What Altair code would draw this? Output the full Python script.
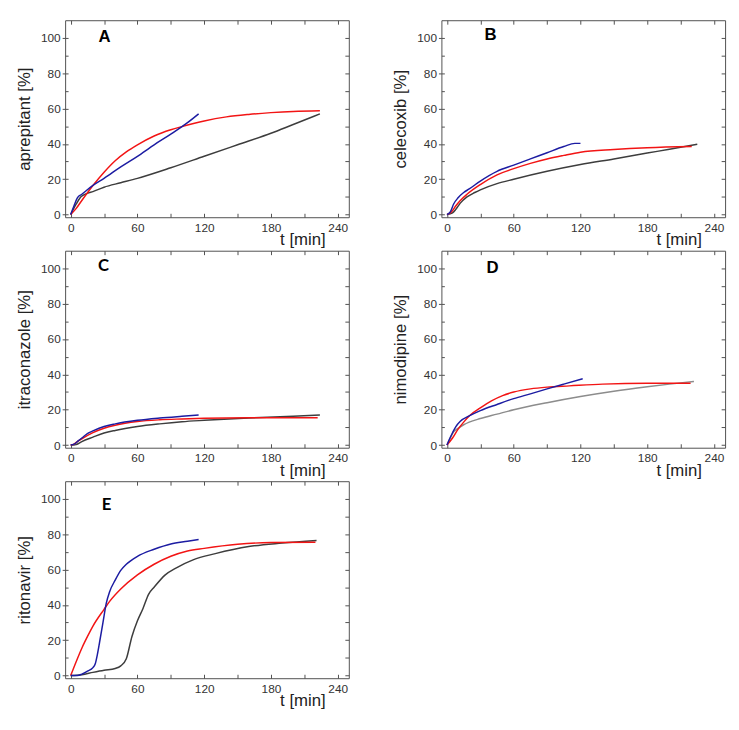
import altair as alt
import pandas as pd

# ---------------- data ----------------
# Panel A - aprepitant
a_blue_t = [0, 3, 6, 10, 20, 30, 45, 60, 75, 90, 105, 115]
a_blue_y = [0, 5, 9.5, 11.5, 16.5, 20.5, 27, 33, 39.5, 45.5, 52, 57]
a_red_t = [0, 5, 10, 20, 30, 40, 50, 60, 75, 90, 100, 120, 140, 160, 180, 200, 224]
a_red_y = [0, 3.5, 8, 16.5, 24, 30.5, 35.5, 39.5, 44.5, 48, 49.8, 53, 55.3, 56.7, 57.7, 58.4, 58.8]
a_gray_t = [0, 5, 9, 15, 20, 30, 45, 60, 90, 120, 150, 180, 200, 224]
a_gray_y = [0, 6, 10, 12, 13, 15.5, 18, 20.5, 26.5, 33, 39.5, 46, 51, 57]

# Panel B - celecoxib
b_blue_t = [0, 3, 6, 10, 15, 20, 30, 45, 60, 75, 90, 105, 115, 120]
b_blue_y = [0, 1.5, 6, 9.5, 12.5, 14.5, 19, 24.5, 28, 31.5, 35, 38.5, 40.3, 40.3]
b_red_t = [0, 4, 8, 12, 18, 30, 45, 60, 75, 90, 105, 120, 150, 180, 220]
b_red_y = [0, 1.5, 5, 8, 11.5, 17, 22.5, 26, 29, 31.5, 33.5, 35.3, 36.8, 37.8, 38.5]
b_gray_t = [0, 5, 8, 12, 18, 25, 30, 45, 60, 90, 120, 150, 180, 200, 225]
b_gray_y = [0, 1, 3, 6.5, 10, 12.5, 14, 17.5, 20, 24.5, 28.3, 31.5, 34.8, 37, 39.8]

# Panel C - itraconazole
c_blue_t = [0, 3, 7, 10, 15, 20, 30, 40, 60, 80, 100, 115]
c_blue_y = [0, 0.5, 2.5, 4, 6.5, 8, 10.5, 12, 14, 15.3, 16.3, 17]
c_red_t = [0, 3, 5, 10, 20, 30, 40, 60, 80, 100, 120, 160, 222]
c_red_y = [0, 0.5, 1.5, 3.5, 7, 9.5, 11.2, 13.3, 14.3, 14.8, 15.2, 15.5, 15.5]
c_gray_t = [0, 3, 5, 10, 20, 30, 40, 60, 80, 100, 120, 160, 200, 224]
c_gray_y = [0, 0, 0.3, 2, 4.5, 6.8, 8.3, 10.5, 12, 13.2, 14, 15.3, 16.3, 17]

# Panel D - nimodipine
d_blue_t = [0, 2, 5, 8, 12, 20, 30, 45, 60, 75, 90, 105, 122]
d_blue_y = [0, 3, 7, 10.5, 13.5, 16.5, 19.5, 23, 26.3, 29, 31.8, 34.5, 37.5]
d_red_t = [0, 5, 10, 15, 20, 30, 40, 50, 60, 75, 90, 110, 140, 180, 219]
d_red_y = [0, 4, 9, 13, 16.5, 21, 25, 28, 30, 31.8, 32.8, 33.5, 34.5, 35, 35]
d_gray_t = [0, 3, 6, 10, 15, 20, 30, 45, 60, 90, 120, 150, 180, 200, 222]
d_gray_y = [0, 4, 7.5, 9.5, 11.5, 13, 15, 17.5, 20, 24, 27.5, 30.5, 33, 34.5, 36]

# Panel E - ritonavir
e_blue_t = [0, 6, 10, 15, 20, 22, 24, 26, 29, 32, 35, 40, 45, 50, 60, 75, 90, 105, 115]
e_blue_y = [0, 0, 0.8, 2.5, 4.5, 6.5, 12, 19, 30, 41, 47.5, 54, 59.5, 63, 67.5, 71.5, 74.5, 76, 77]
e_red_t = [0, 5, 10, 15, 20, 30, 35, 45, 60, 75, 90, 105, 120, 150, 180, 220]
e_red_y = [0, 8, 15.5, 22, 28, 37.5, 42, 49, 57, 63, 67.5, 70.5, 72, 74.3, 75.3, 75.5]
e_gray_t = [0, 10, 20, 30, 40, 45, 50, 55, 60, 65, 70, 75, 85, 95, 110, 130, 160, 190, 221]
e_gray_y = [0, 0.5, 1.8, 3, 4, 5.5, 9.5, 22, 31, 38, 46, 50, 57, 61, 65.5, 69, 73, 75, 76.5]

x_major = [0, 60, 120, 180, 240]
x_all = [0, 30, 60, 90, 120, 150, 180, 210, 240]
y_major = [0, 20, 40, 60, 80, 100]
y_all = [0, 10, 20, 30, 40, 50, 60, 70, 80, 90, 100]

BLUE = "#1c1ca2"
RED = "#f21414"
DARK = "#3d3d3d"
LIGHT = "#8c8c8c"
FONT = "Liberation Sans"

W, H = 288, 200
XS = alt.Scale(domain=[-5, 250], nice=False, zero=False)
YS = alt.Scale(domain=[-1.5, 110], nice=False, zero=False)
CS = alt.Scale(domain=["gray", "lightgray", "red", "blue"], range=[DARK, LIGHT, RED, BLUE])


def make_df(gt, gy, rt, ry, bt, by, gname="gray"):
    rows = []
    for s, ts, vs in ((gname, gt, gy), ("red", rt, ry), ("blue", bt, by)):
        for t, v in zip(ts, vs):
            rows.append({"s": s, "t": t, "v": v})
    return pd.DataFrame(rows)


def panel(df, ytitle, letter, lfont, lx, ly):
    lines = alt.Chart(df).mark_line(strokeWidth=1.5, interpolate="monotone").encode(
        x=alt.X("t:Q", scale=XS, axis=alt.Axis(
            orient="bottom", values=x_major, ticks=False, domain=False, grid=False,
            labelFontSize=12, labelPadding=5, title="t [min]", titleX=264, titleY=23,
            titleAlign="right", titleBaseline="middle", titleFontSize=17,
            titleFontWeight="normal")),
        y=alt.Y("v:Q", scale=YS, axis=alt.Axis(
            orient="left", values=y_major, tickSize=3, domain=False, grid=False,
            labelFontSize=12, labelPadding=2, title=ytitle, titleFontSize=17,
            titleFontWeight="normal", titlePadding=7)),
        color=alt.Color("s:N", scale=CS, legend=None),
    )
    ticks_tr = alt.Chart(df).mark_line(strokeOpacity=0).encode(
        x=alt.X("t:Q", scale=XS, axis=alt.Axis(
            orient="top", values=x_all, labels=False, domain=False, grid=False,
            tickSize=4, offset=-4, title=None)),
        y=alt.Y("v:Q", scale=YS, axis=alt.Axis(
            orient="right", values=y_all, labels=False, domain=False, grid=False,
            tickSize=4, offset=-4, title=None)),
        detail="s:N",
    )
    ticks_bl = alt.Chart(df).mark_line(strokeOpacity=0).encode(
        x=alt.X("t:Q", scale=XS, axis=alt.Axis(
            orient="bottom", values=x_all, labels=False, domain=False, grid=False,
            tickSize=4, offset=-4, title=None)),
        y=alt.Y("v:Q", scale=YS, axis=alt.Axis(
            orient="left", values=y_all, labels=False, domain=False, grid=False,
            tickSize=3, offset=-3, title=None)),
        detail="s:N",
    )
    lab = alt.Chart(pd.DataFrame({"L": [letter]})).mark_text(
        font=lfont, fontSize=17, fontWeight="bold", color="#000",
        align="center", baseline="middle").encode(
        x=alt.value(lx), y=alt.value(ly), text="L:N")
    return alt.layer(lines, ticks_tr, ticks_bl, lab).resolve_axis(
        x="independent", y="independent").properties(width=W, height=H)


pA = panel(make_df(a_gray_t, a_gray_y, a_red_t, a_red_y, a_blue_t, a_blue_y),
           "aprepitant [%]", "A", FONT, 40, 17)
pB = panel(make_df(b_gray_t, b_gray_y, b_red_t, b_red_y, b_blue_t, b_blue_y),
           "celecoxib [%]", "B", FONT, 50, 15)
pC = panel(make_df(c_gray_t, c_gray_y, c_red_t, c_red_y, c_blue_t, c_blue_y),
           "itraconazole [%]", "C", "Lato", 39, 16)
pD = panel(make_df(d_gray_t, d_gray_y, d_red_t, d_red_y, d_blue_t, d_blue_y, "lightgray"),
           "nimodipine [%]", "D", FONT, 52, 18)
pE = panel(make_df(e_gray_t, e_gray_y, e_red_t, e_red_y, e_blue_t, e_blue_y),
           "ritonavir [%]", "E", "Lato", 42, 24)

chart = alt.concat(pA, pB, pC, pD, pE, columns=2,
                   spacing={"row": 1, "column": 42}).properties(
    padding={"left": 7, "top": 6, "right": 5, "bottom": 5}
).configure_view(stroke="#505050", strokeWidth=1).configure_axis(
    labelFont=FONT, titleFont=FONT, labelColor="#333333", titleColor="#222222",
    tickColor="#505050", tickWidth=1)

chart.save("out.html", embed_options={"renderer": "svg", "actions": False})
